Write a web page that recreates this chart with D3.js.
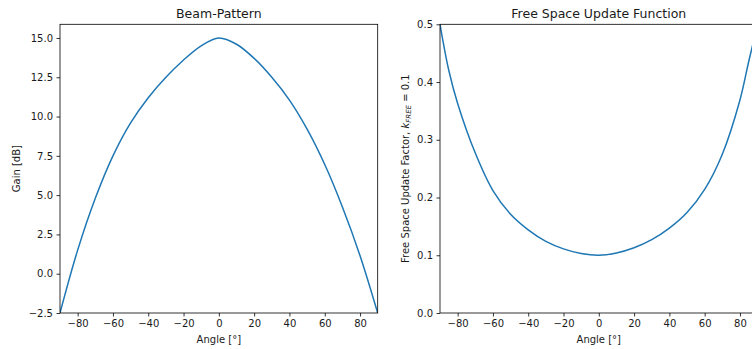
<!DOCTYPE html>
<html>
<head>
<meta charset="utf-8">
<script src="https://cdn.jsdelivr.net/npm/d3@7"></script>
<style>
  html, body { margin: 0; padding: 0; background: #fff; }
  svg { display: block; font-family: "DejaVu Sans", sans-serif; }
</style>
</head>
<body>
<svg id="chart" width="752" height="349"></svg>
<script>
// ---- data ----
const beamAngles = [-90,-80,-70,-60,-50,-40,-30,-20,-10,0,10,20,30,40,50,60,70,80,90];
const beamGain   = [-2.5,1.5,4.8,7.5,9.6,11.2,12.5,13.6,14.5,15.0,14.6,13.7,12.5,11.05,9.2,6.95,4.25,1.15,-2.5];

const freeAngles = [-90,-85,-80,-70,-60,-50,-40,-30,-20,-10,0,10,20,30,40,50,60,70,80,85,90];
const freeFactor = [0.5,0.42,0.363,0.277,0.212,0.171,0.144,0.124,0.111,0.103,0.1,0.104,0.113,0.127,0.147,0.174,0.214,0.275,0.369,0.436,0.5];

const xTicks = [-80,-60,-40,-20,0,20,40,60,80];
const beamYTicks = [-2.5,0.0,2.5,5.0,7.5,10.0,12.5,15.0];
const freeYTicks = [0.0,0.1,0.2,0.3,0.4,0.5];

const titles = ["Beam-Pattern", "Free Space Update Function"];

// ---- drawing ----
(function () {
const svg = d3.select("#chart");
const fmt = v => d3.format(".1f")(v).replace("-", "\u2212");
const lineColor = "#1f77b4";
const textColor = "#1a1a1a";

function panel(opts) {
  const {left, right, top, bottom, xDomain, yDomain, xs, ys, yTicks, title, id} = opts;
  const x = d3.scaleLinear().domain(xDomain).range([left, right]);
  const y = d3.scaleLinear().domain(yDomain).range([bottom, top]);
  const g = svg.append("g");

  g.append("clipPath").attr("id", id).append("rect")
    .attr("x", left).attr("y", top).attr("width", right - left).attr("height", bottom - top);

  const xAxis = d3.axisBottom(x).tickValues(xTicks).tickSize(3.5).tickPadding(3.5)
    .tickFormat(d => String(d).replace("-", "\u2212"));
  const gx = g.append("g").attr("transform", `translate(0,${bottom})`).call(xAxis);
  const yAxis = d3.axisLeft(y).tickValues(yTicks).tickSize(3.5).tickPadding(3.5).tickFormat(fmt);
  const gy = g.append("g").attr("transform", `translate(${left},0)`).call(yAxis);
  [gx, gy].forEach(a => {
    a.select(".domain").remove();
    a.selectAll(".tick line").attr("stroke", "#000").attr("stroke-width", 0.8);
    a.selectAll(".tick text").attr("fill", textColor).attr("font-size", 10)
      .attr("font-family", "DejaVu Sans");
  });

  const line = d3.line().x((d, i) => x(xs[i])).y(d => y(d)).curve(d3.curveCatmullRom.alpha(0.5));
  g.append("path").datum(ys).attr("d", line).attr("fill", "none")
    .attr("stroke", lineColor).attr("stroke-width", 1.5).attr("clip-path", `url(#${id})`);

  g.append("rect").attr("x", left).attr("y", top).attr("width", right - left).attr("height", bottom - top)
    .attr("fill", "none").attr("stroke", "#000").attr("stroke-width", 0.8);

  g.append("text").attr("x", (left + right) / 2).attr("y", top - 6.5)
    .attr("text-anchor", "middle").attr("font-size", 12.5).attr("fill", textColor).text(title);

  g.append("text").attr("x", (left + right) / 2).attr("y", 342.5)
    .attr("text-anchor", "middle").attr("font-size", 10).attr("fill", textColor).text("Angle [°]");
  return g;
}

const pTop = 24.3, pBottom = 313;
const gL = panel({left: 60, right: 377.7, top: pTop, bottom: pBottom, xDomain: [-90, 90], yDomain: [-2.5, 15.87],
  xs: beamAngles, ys: beamGain, yTicks: beamYTicks, title: titles[0], id: "clipL"});
const gR = panel({left: 440, right: 757.6, top: pTop, bottom: pBottom, xDomain: [-90, 90], yDomain: [0, 0.5],
  xs: freeAngles, ys: freeFactor, yTicks: freeYTicks, title: titles[1], id: "clipR"});

gL.append("text").attr("transform", `translate(20.3,${(pTop + pBottom) / 2}) rotate(-90)`)
  .attr("text-anchor", "middle").attr("font-size", 10).attr("fill", textColor).text("Gain [dB]");

const yl = gR.append("text").attr("transform", `translate(409.3,${(pTop + pBottom) / 2}) rotate(-90)`)
  .attr("text-anchor", "middle").attr("font-size", 10).attr("fill", textColor);
yl.append("tspan").text("Free Space Update Factor, ");
yl.append("tspan").attr("font-style", "italic").text("k");
yl.append("tspan").attr("font-style", "italic").attr("font-size", 7).attr("dy", 1.5).text("FREE");
yl.append("tspan").attr("dy", -1.5).text(" = 0.1");
})();
</script>
</body>
</html>
